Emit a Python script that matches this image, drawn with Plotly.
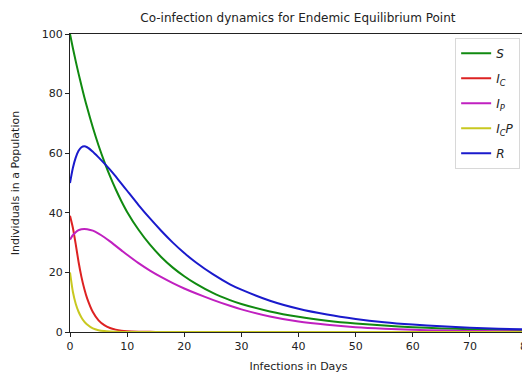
import plotly.graph_objects as go

days = [0, 0.5, 1, 1.5, 2, 2.5, 3, 4, 5, 6, 7, 8, 9, 10, 12, 14, 16, 18, 20, 22, 25, 28, 30,
        35, 40, 45, 50, 55, 60, 65, 70, 75, 80]

S = [100, 95.3, 90.9, 86.7, 82.7, 78.9, 75.3, 68.6, 62.6, 57.2, 52.3, 47.9, 43.9, 40.3, 34.3,
     29.3, 25.1, 21.6, 18.7, 16.2, 13.1, 10.7, 9.4, 6.9, 5.1, 3.8, 2.85, 2.15, 1.6, 1.2, 0.95, 0.75, 0.6]
Ic = [39, 35, 29.5, 23.5, 18.5, 14.5, 11.3, 6.7, 3.9, 2.3, 1.35, 0.8, 0.45, 0.27, 0.1,
      0.05, 0.02, 0.01, 0, 0, 0, 0, 0, 0, 0, 0, 0, 0, 0, 0, 0, 0, 0]
Ip = [31, 32.5, 33.5, 34.2, 34.5, 34.6, 34.5, 34.0, 33.0, 31.8, 30.4, 28.9, 27.4, 25.9, 23.1,
      20.6, 18.4, 16.4, 14.6, 13.0, 10.8, 8.8, 7.6, 5.2, 3.5, 2.4, 1.6, 1.1, 0.75, 0.5, 0.35, 0.25, 0.17]
IcP = [20, 13.5, 9.5, 6.8, 4.9, 3.5, 2.5, 1.2, 0.6, 0.3, 0.15, 0.08, 0.04, 0.02, 0,
       0, 0, 0, 0, 0, 0, 0, 0, 0, 0, 0, 0, 0, 0, 0, 0, 0, 0]
R = [50, 55, 58.5, 60.8, 62.0, 62.3, 62.0, 60.5, 58.6, 56.6, 54.5, 52.2, 49.8, 47.4, 42.6,
     38.1, 33.9, 30.0, 26.5, 23.4, 19.4, 16.0, 14.2, 10.5, 7.8, 5.85, 4.4, 3.3, 2.5, 1.9, 1.45, 1.1, 0.85]

series = [
    ("<i>S</i>", S, "#108a10"),
    ("<i>I<sub>C</sub></i>", Ic, "#dd2222"),
    ("<i>I<sub>P</sub></i>", Ip, "#c020c0"),
    ("<i>I<sub>C</sub>P</i>", IcP, "#c8c820"),
    ("<i>R</i>", R, "#1a1acc"),
]

fig = go.Figure()
for i, (name, vals, color) in enumerate(series):
    fig.add_trace(go.Scatter(x=days, y=vals, mode="lines", name=name, legendgroup=f"g{i}",
                             line=dict(color=color, width=2, shape="spline", smoothing=0.6)))

axis_common = dict(showline=True, linecolor="#222", linewidth=1, mirror=True, ticks="outside",
                   ticklen=4, tickcolor="#222", showgrid=False, zeroline=False, automargin=False,
                   tickfont=dict(family="DejaVu Sans", size=11, color="#222"))

fig.update_layout(
    width=530, height=374,
    margin=dict(l=62, r=11, t=26, b=50),
    paper_bgcolor="white", plot_bgcolor="white",
    title=dict(text="Co-infection dynamics for Endemic Equilibrium Point", x=0.547, xanchor="center",
               y=0.973, yanchor="middle", automargin=False,
               font=dict(family="DejaVu Sans", size=12, color="#222")),
    xaxis=dict(range=[0, 80], tickvals=[0, 10, 20, 30, 40, 50, 60, 70, 80],
               title=dict(text="Infections in Days", standoff=10,
                          font=dict(family="DejaVu Sans", size=11, color="#222")), **axis_common),
    yaxis=dict(range=[0, 100], tickvals=[0, 20, 40, 60, 80, 100],
               title=dict(text="Individuals in a Population", standoff=19,
                          font=dict(family="DejaVu Sans", size=11, color="#222")), **axis_common),
    legend=dict(x=0.985, y=0.987, xanchor="right", yanchor="top", bgcolor="white",
                bordercolor="#d8d8d8", borderwidth=1, tracegroupgap=6, itemwidth=30,
                font=dict(family="DejaVu Sans", size=12, color="#222")),
    showlegend=True,
)

fig.write_html("out.html")
